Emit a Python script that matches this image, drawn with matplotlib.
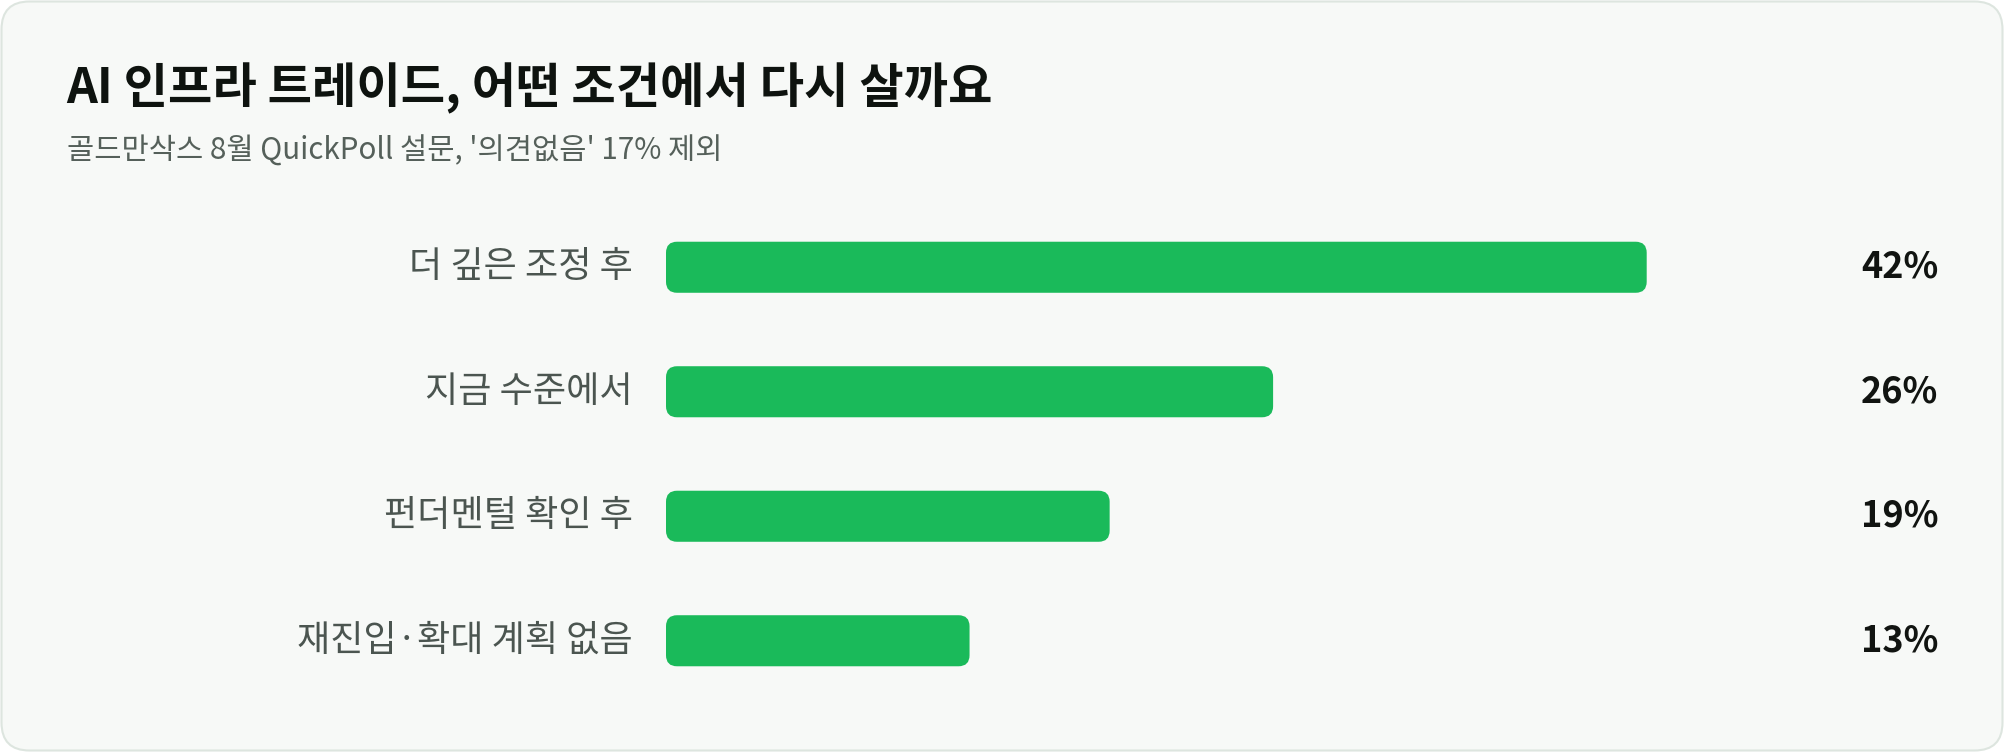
import matplotlib
matplotlib.use("Agg")
import matplotlib.pyplot as plt
from matplotlib.patches import FancyBboxPatch
import matplotlib.transforms as mtransforms

plt.rcParams['font.family'] = ['Noto Sans CJK KR', 'DejaVu Sans']

# ---- data ----
categories = ["더 깊은 조정 후", "지금 수준에서", "펀더멘털 확인 후", "재진입·확대 계획 없음"]
values = [42, 26, 19, 13]
value_labels = ["42%", "26%", "19%", "13%"]
title = "AI 인프라 트레이드, 어떤 조건에서 다시 살까요"
subtitle = "골드만삭스 8월 QuickPoll 설문, '의견없음' 17% 제외"

W, H = 2004, 752
DPI = 100
fig = plt.figure(figsize=(W / DPI, H / DPI), dpi=DPI, facecolor="white")

def fx(px):
    return px / W

def fy(py):  # py measured from top
    return 1 - py / H

# card background
card = FancyBboxPatch((fx(1.5), fy(750.5)), fx(2001), 749 / H,
                      boxstyle="round,pad=0,rounding_size=%f" % fx(28),
                      mutation_aspect=W / H,
                      transform=fig.transFigure, facecolor="#f7f9f7",
                      edgecolor="#dde5df", linewidth=1.5, zorder=-5)
fig.patches.append(card)

# title & subtitle
fig.text(fx(66), fy(103), title, fontsize=34.7, fontweight="bold",
         color="#0e130f", va="baseline", ha="left")
fig.text(fx(67), fy(160), subtitle, fontsize=21.3, color="#55605a",
         va="baseline", ha="left")

# axes
ax_left, ax_top, ax_bot = 666, 205, 703
xmax = 50
px_per_unit = 23.35
ax = fig.add_axes([fx(ax_left), fy(ax_bot), fx(xmax * px_per_unit), (ax_bot - ax_top) / H])
ax.set_zorder(2)
ax.set_facecolor("none")
ax.set_xlim(0, xmax)
ax.set_ylim(len(categories) - 0.5, -0.5)
ax.axis("off")

bar_h = 0.41
ypos = list(range(len(categories)))
bars = ax.barh(ypos, values, height=bar_h, color="#1aba5a", left=0)

# rounded bars replacing plain rectangles
fig.canvas.draw()
xunit_px = ax.transData.transform((1, 0))[0] - ax.transData.transform((0, 0))[0]
yunit_px = abs(ax.transData.transform((0, 1))[1] - ax.transData.transform((0, 0))[1])
radius_px = 11
for b in bars:
    b.set_visible(False)
    x0, y0 = b.get_x(), b.get_y()
    w, h = b.get_width(), b.get_height()
    p = FancyBboxPatch((x0, y0), w, h,
                       boxstyle="round,pad=0,rounding_size=%f" % (radius_px / xunit_px),
                       mutation_aspect=xunit_px / yunit_px,
                       facecolor="#1aba5a", edgecolor="none", zorder=2)
    ax.add_patch(p)

trans = mtransforms.blended_transform_factory(fig.transFigure, ax.transData)
for i, (cat, lab) in enumerate(zip(categories, value_labels)):
    ax.text(fx(633), i, cat, transform=trans, ha="right", va="center",
            fontsize=26, color="#4b5550", clip_on=False)
    ax.text(fx(1938), i, lab, transform=trans, ha="right", va="center",
            fontsize=26, fontweight="bold", color="#111411", clip_on=False)

fig.savefig("out.png", dpi=DPI, facecolor="white")
